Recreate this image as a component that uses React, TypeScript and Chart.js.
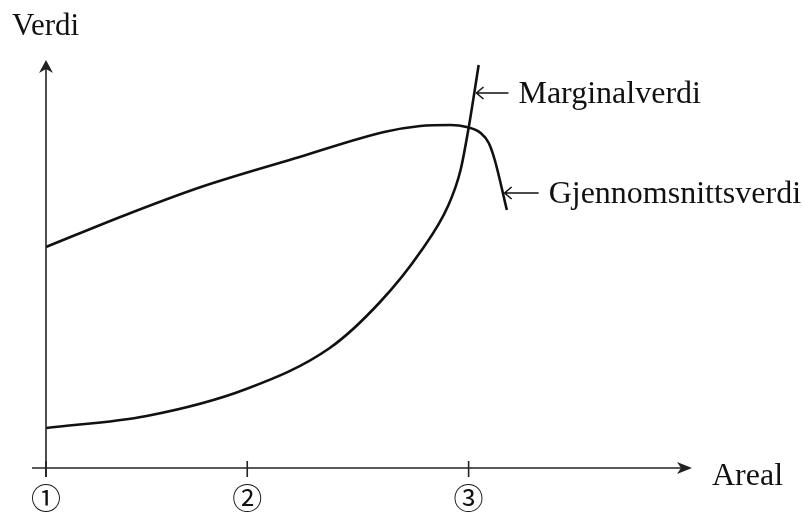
import React, { useEffect, useRef } from "react";
import { Chart, registerables } from "chart.js";

Chart.register(...registerables);

// Areal positions of the marked points (①, ②, ③)
const tickValues = [0, 10, 21];
const tickLabels = ["①", "②", "③"];

// Gjennomsnittsverdi (average value) curve
const avgX = [0, 4.2, 7.7, 12.6, 16.8, 18.6, 20.1, 20.9, 21.6, 22.0, 22.3, 22.9];
const avgY = [22.1, 25.5, 28.1, 31.1, 33.6, 34.2, 34.3, 34.1, 33.5, 32.5, 30.8, 25.8];

// Marginalverdi (marginal value) curve
const margX = [0, 5.0, 9.95, 14.1, 16.6, 18.6, 20.0, 20.6, 21.0, 21.5];
const margY = [4.0, 5.2, 7.9, 12.0, 16.6, 21.6, 26.3, 29.8, 34.0, 40.3];

const yAxisTitle = "Verdi";
const xAxisTitle = "Areal";
const seriesNames = ["Marginalverdi", "Gjennomsnittsverdi"];
// where the pointer arrows touch the curves (data units)
const pointerTips = [
  { x: 21.34, y: 37.5 },
  { x: 22.74, y: 27.5 },
];

const X_MAX = 32.1;
const Y_MAX = 40.8;

function arrowHead(ctx: CanvasRenderingContext2D, tx: number, ty: number, angle: number, len: number, half: number, notch: number) {
  ctx.save();
  ctx.translate(tx, ty);
  ctx.rotate(angle);
  ctx.beginPath();
  ctx.moveTo(0, 0);
  ctx.lineTo(-len, -half);
  ctx.lineTo(-len + notch, 0);
  ctx.lineTo(-len, half);
  ctx.closePath();
  ctx.fill();
  ctx.restore();
}

const decorPlugin = {
  id: "decor",
  afterDatasetsDraw(chart: any) {
    const ctx: CanvasRenderingContext2D = chart.ctx;
    const xs = chart.scales.x;
    const ys = chart.scales.y;
    const x0 = xs.getPixelForValue(0);
    const y0 = ys.getPixelForValue(0);
    const xEnd = xs.getPixelForValue(X_MAX);
    const yTop = ys.getPixelForValue(Y_MAX);
    ctx.save();
    ctx.strokeStyle = "#222";
    ctx.fillStyle = "#222";
    ctx.lineWidth = 1.6;
    // x axis
    ctx.beginPath();
    ctx.moveTo(x0 - 14, y0);
    ctx.lineTo(xEnd - 4, y0);
    ctx.stroke();
    arrowHead(ctx, xEnd, y0, 0, 15, 6, 4);
    // y axis
    ctx.beginPath();
    ctx.moveTo(x0, y0 + 9);
    ctx.lineTo(x0, yTop + 4);
    ctx.stroke();
    arrowHead(ctx, x0, yTop, -Math.PI / 2, 13, 7, 4);
    // tick marks
    for (const v of tickValues) {
      const px = xs.getPixelForValue(v);
      ctx.beginPath();
      ctx.moveTo(px, y0 - 7);
      ctx.lineTo(px, y0 + 9);
      ctx.stroke();
    }
    // texts
    ctx.fillStyle = "#111";
    ctx.textBaseline = "alphabetic";
    ctx.textAlign = "left";
    ctx.font = '31px "Liberation Serif"';
    ctx.fillText(yAxisTitle, x0 - 34, yTop - 25);
    ctx.font = '32px "Liberation Serif"';
    ctx.fillText(xAxisTitle, xEnd + 20, y0 + 17);
    // pointers + series labels
    ctx.lineWidth = 1.5;
    ctx.strokeStyle = "#111";
    const lens = [33, 35];
    pointerTips.forEach((t, i) => {
      const tx = xs.getPixelForValue(t.x);
      const ty = ys.getPixelForValue(t.y);
      ctx.beginPath();
      ctx.moveTo(tx + lens[i], ty);
      ctx.lineTo(tx + 1, ty);
      ctx.moveTo(tx + 8, ty - 6);
      ctx.lineTo(tx + 1, ty);
      ctx.lineTo(tx + 8, ty + 6);
      ctx.stroke();
      ctx.fillText(seriesNames[i], tx + lens[i] + 10, ty + 10);
    });
    ctx.restore();
  },
};

export default function App() {
  const ref = useRef<HTMLCanvasElement | null>(null);
  useEffect(() => {
    if (!ref.current) return;
    const line = (xv: number[], yv: number[], label: string) => ({
      label,
      data: xv.map((x, i) => ({ x, y: yv[i] })),
      borderColor: "#111",
      borderWidth: 2.6,
      pointRadius: 0,
      fill: false,
      cubicInterpolationMode: "monotone" as const,
    });
    const chart = new Chart(ref.current, {
      type: "line",
      data: {
        datasets: [line(margX, margY, seriesNames[0]), line(avgX, avgY, seriesNames[1])],
      },
      options: {
        animation: false,
        responsive: false,
        layout: { padding: { left: 0, top: 60, right: 112, bottom: 0 } },
        plugins: { legend: { display: false }, tooltip: { enabled: false } },
        scales: {
          x: {
            type: "linear",
            min: 0,
            max: X_MAX,
            grid: { display: false },
            border: { display: false },
            afterBuildTicks: (s: any) => {
              s.ticks = tickValues.map((v) => ({ value: v }));
            },
            afterFit: (s: any) => {
              s.height = 48;
            },
            ticks: {
              autoSkip: false,
              maxRotation: 0,
              padding: 4,
              color: "#111",
              font: { family: '"Noto Sans CJK JP"', size: 30 },
              callback: (_v: any, i: number) => tickLabels[i],
            },
          },
          y: {
            type: "linear",
            min: 0,
            max: Y_MAX,
            grid: { display: false },
            border: { display: false },
            ticks: { display: false },
            afterFit: (s: any) => {
              s.width = 46;
            },
          },
        },
      },
      plugins: [decorPlugin],
    });
    return () => chart.destroy();
  }, []);
  return (
    <div style={{ position: "absolute", left: 0, top: 0, width: 804, height: 516, background: "#fff" }}>
      <canvas ref={ref} width={804} height={516} />
    </div>
  );
}
